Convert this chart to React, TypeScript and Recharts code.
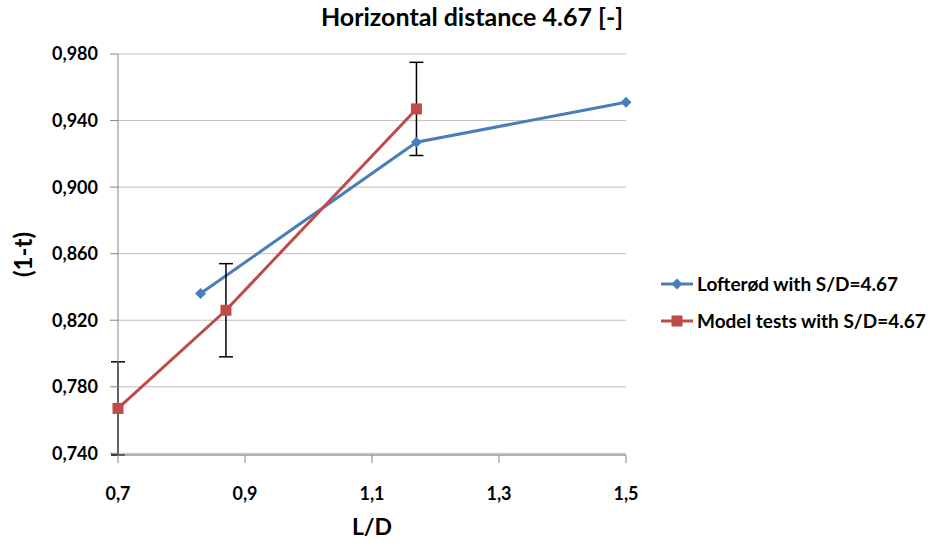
import {
  CartesianGrid,
  ComposedChart,
  ErrorBar,
  Line,
  XAxis,
  YAxis,
} from 'recharts'

const FONT = 'Lato, "DejaVu Sans", sans-serif'
const BLUE = '#4A7EBB'
const RED = '#BE4B48'

// L/D values and (1-t)
const lofterodX = [0.83, 1.17, 1.5]
const lofterodY = [0.836, 0.927, 0.951]

const modelX = [0.7, 0.87, 1.17]
const modelY = [0.767, 0.826, 0.947]
const modelErr = [0.028, 0.028, 0.028]

const xTicks = [0.7, 0.9, 1.1, 1.3, 1.5]
const yTicks = [0.74, 0.78, 0.82, 0.86, 0.9, 0.94, 0.98]

const lofterod = lofterodX.map((x, i) => ({ x, y: lofterodY[i] }))
const model = modelX.map((x, i) => ({ x, y: modelY[i], err: modelErr[i] }))

const xFmt = (v: number) => v.toFixed(1).replace('.', ',')
const yFmt = (v: number) => v.toFixed(3).replace('.', ',')

const Diamond = ({ cx, cy }: any) => (
  <path
    d={`M${cx},${cy - 5.5}L${cx + 5.5},${cy}L${cx},${cy + 5.5}L${cx - 5.5},${cy}Z`}
    fill={BLUE}
  />
)

const Square = ({ cx, cy }: any) => (
  <rect x={cx - 5.5} y={cy - 5.5} width={11} height={11} fill={RED} />
)

const legendItems = [
  { name: 'Lofterød with S/D=4.67', color: BLUE, Marker: Diamond },
  { name: 'Model tests with S/D=4.67', color: RED, Marker: Square },
]

const LegendBox = () => (
  <div
    style={{
      position: 'absolute',
      left: 661,
      top: 265,
      fontFamily: FONT,
      fontWeight: 700,
      fontSize: 19,
      whiteSpace: 'nowrap',
    }}
  >
    {legendItems.map(({ name, color, Marker }) => (
      <div key={name} style={{ display: 'flex', alignItems: 'center', height: 37 }}>
        <svg width={34} height={16}>
          <line x1={0} y1={8} x2={32} y2={8} stroke={color} strokeWidth={3} />
          <Marker cx={16} cy={8} />
        </svg>
        <span style={{ marginLeft: 2 }}>{name}</span>
      </div>
    ))}
  </div>
)

const tickStyle = { fill: '#000', fontFamily: FONT, fontWeight: 700, fontSize: 18 }

const YLabel = ({ viewBox }: any) => {
  const cy = viewBox.y + viewBox.height / 2
  return (
    <text
      x={22}
      y={cy}
      transform={`rotate(-90, 22, ${cy})`}
      textAnchor="middle"
      dominantBaseline="central"
      fill="#000"
      fontFamily={FONT}
      fontWeight={700}
      fontSize={24}
    >
      (1-t)
    </text>
  )
}

export default function App() {
  return (
    <div style={{ position: 'absolute', left: 0, top: 0, width: 932, height: 549, background: '#fff' }}>
      <div
        style={{
          position: 'absolute',
          left: 10,
          top: 1,
          width: 924,
          textAlign: 'center',
          fontFamily: FONT,
          fontWeight: 700,
          fontSize: 25,
        }}
      >
        Horizontal distance 4.67 [-]
      </div>
      <ComposedChart width={932} height={549} margin={{ top: 54, right: 306, bottom: 0, left: 0 }}>
        <CartesianGrid vertical={false} stroke="#bfbfbf" />
        <XAxis
          type="number"
          dataKey="x"
          domain={[0.7, 1.5]}
          ticks={xTicks}
          tickFormatter={xFmt}
          height={94}
          tickSize={8}
          tickMargin={24}
          stroke="#868686"
          tick={tickStyle}
          label={{
            value: 'L/D',
            position: 'insideBottom',
            offset: 14,
            fill: '#000',
            fontFamily: FONT,
            fontWeight: 700,
            fontSize: 23,
          }}
        />
        <YAxis
          type="number"
          domain={[0.74, 0.98]}
          ticks={yTicks}
          tickFormatter={yFmt}
          width={118}
          tickSize={8}
          tickMargin={12}
          stroke="#868686"
          tick={tickStyle}
          label={<YLabel />}
        />
        <Line
          data={lofterod}
          dataKey="y"
          name="Lofterød with S/D=4.67"
          stroke={BLUE}
          strokeWidth={3}
          dot={<Diamond />}
          activeDot={false}
          isAnimationActive={false}
        />
        <Line
          data={model}
          dataKey="y"
          name="Model tests with S/D=4.67"
          stroke={RED}
          strokeWidth={3}
          dot={<Square />}
          activeDot={false}
          isAnimationActive={false}
        >
          <ErrorBar dataKey="err" direction="y" width={7} stroke="#000" strokeWidth={1.5} isAnimationActive={false} />
        </Line>
      </ComposedChart>
      <LegendBox />
    </div>
  )
}
